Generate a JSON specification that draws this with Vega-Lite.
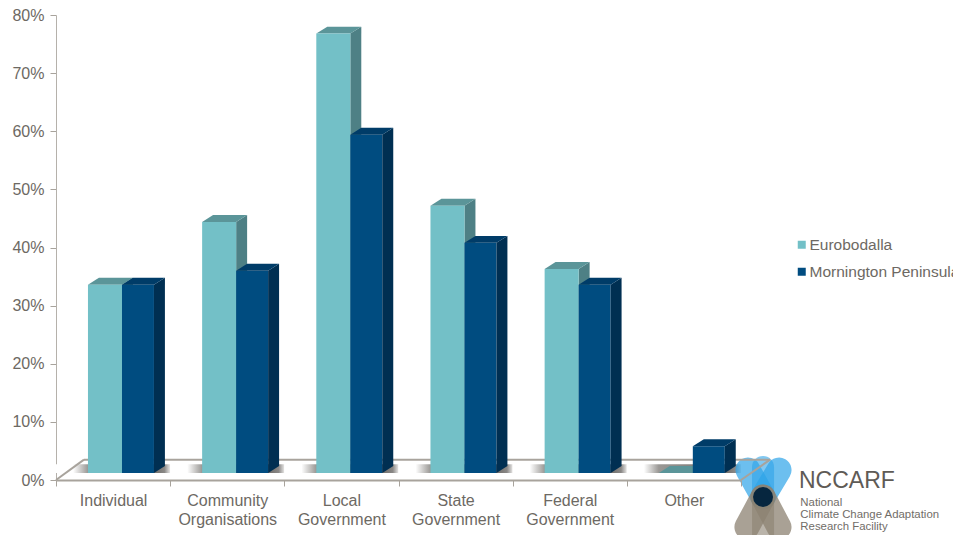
{
  "$schema": "https://vega.github.io/schema/vega-lite/v6.json",
  "autosize": "none",
  "width": 685,
  "height": 465,
  "padding": {"left": 56, "top": 15, "right": 212, "bottom": 55},
  "background": "#ffffff",
  "config": {"view": {"stroke": null}, "font": "Liberation Sans"},
  "data": {
    "values": [
      {"category": "Individual", "series": "Eurobodalla", "value": 32.4},
      {"category": "Individual", "series": "Mornington Peninsula", "value": 32.4},
      {"category": "Community Organisations", "series": "Eurobodalla", "value": 43.2},
      {"category": "Community Organisations", "series": "Mornington Peninsula", "value": 34.8},
      {"category": "Local Government", "series": "Eurobodalla", "value": 75.6},
      {"category": "Local Government", "series": "Mornington Peninsula", "value": 58.2},
      {"category": "State Government", "series": "Eurobodalla", "value": 46.0},
      {"category": "State Government", "series": "Mornington Peninsula", "value": 39.6},
      {"category": "Federal Government", "series": "Eurobodalla", "value": 35.1},
      {"category": "Federal Government", "series": "Mornington Peninsula", "value": 32.4},
      {"category": "Other", "series": "Eurobodalla", "value": 0},
      {"category": "Other", "series": "Mornington Peninsula", "value": 4.6}
    ]
  },
  "transform": [
    {"calculate": "indexof(['Individual','Community Organisations','Local Government','State Government','Federal Government','Other'], datum.category)", "as": "slot"},
    {"calculate": "datum.slot + (datum.series === 'Eurobodalla' ? 0.28 : 0.578)", "as": "left"},
    {"calculate": "datum.slot + (datum.series === 'Eurobodalla' ? 0.578 : 0.858)", "as": "right"},
    {"calculate": "datum.value + 1.2", "as": "front"},
    {"calculate": "1.2", "as": "base"}
  ],
  "resolve": {"scale": {"x": "independent", "y": "independent"}},
  "layer": [
    {
      "transform": [{"filter": "datum.series === 'Eurobodalla'"}],
      "mark": {
        "type": "rect",
        "color": {
          "gradient": "linear", "x1": 0, "y1": 0, "x2": 1, "y2": 0,
          "stops": [
            {"offset": 0, "color": "#ffffff"},
            {"offset": 0.15, "color": "#ffffff"},
            {"offset": 0.28, "color": "#9a9895"},
            {"offset": 0.86, "color": "#6f6d6a"},
            {"offset": 0.95, "color": "#8a8886"},
            {"offset": 1, "color": "#e8e7e6"}
          ]
        }
      },
      "encoding": {
        "x": {
          "field": "category", "type": "nominal", "sort": null,
          "scale": {"paddingInner": 0, "paddingOuter": 0},
          "axis": {
            "title": null, "labelAngle": 0, "tickBand": "extent",
            "labelExpr": "split(datum.label, ' ')",
            "labelFontSize": 16, "labelColor": "#6d6963", "labelLineHeight": 19,
            "labelPadding": 6, "labelLimit": 200,
            "domainColor": "#a8a39c", "domainWidth": 2,
            "tickColor": "#a8a39c", "tickSize": 6, "tickWidth": 1
          }
        },
        "y": {
          "datum": 1.2, "type": "quantitative",
          "scale": {"domain": [0, 80], "nice": false},
          "axis": {
            "title": null, "values": [0, 10, 20, 30, 40, 50, 60, 70, 80],
            "labelExpr": "datum.value + '%'", "grid": false,
            "labelFontSize": 16, "labelColor": "#6d6963", "labelPadding": 6,
            "domainColor": "#b5b1ab", "domainWidth": 1,
            "tickColor": "#a8a39c", "tickSize": 6, "tickWidth": 1
          }
        },
        "y2": {"datum": 2.7}
      }
    },
    {
      "layer": [
        {
          "data": {"values": [{"part": "left petal"}]},
          "mark": {"type": "rule", "color": "#2ea4e8", "opacity": 0.7, "strokeWidth": 25, "strokeCap": "round"},
          "encoding": {
            "x": {"datum": 6.061, "type": "quantitative", "scale": {"domain": [0, 6]}, "axis": null},
            "x2": {"datum": 6.193},
            "y": {"datum": 1.72, "type": "quantitative", "scale": {"domain": [0, 80]}, "axis": null},
            "y2": {"datum": -2.92}
          }
        },
        {
          "data": {"values": [{"part": "right petal"}]},
          "mark": {"type": "rule", "color": "#2ea4e8", "opacity": 0.7, "strokeWidth": 25, "strokeCap": "round"},
          "encoding": {
            "x": {"datum": 6.333, "type": "quantitative", "scale": {"domain": [0, 6]}, "axis": null},
            "x2": {"datum": 6.193},
            "y": {"datum": 1.72, "type": "quantitative", "scale": {"domain": [0, 80]}, "axis": null},
            "y2": {"datum": -2.92}
          }
        },
        {
          "data": {"values": [{"part": "middle petal"}]},
          "mark": {"type": "rule", "color": "#2ea4e8", "opacity": 0.6, "strokeWidth": 22, "strokeCap": "round"},
          "encoding": {
            "x": {"datum": 6.193, "type": "quantitative", "scale": {"domain": [0, 6]}, "axis": null},
            "x2": {"datum": 6.193},
            "y": {"datum": 2.24, "type": "quantitative", "scale": {"domain": [0, 80]}, "axis": null},
            "y2": {"datum": -2.92}
          }
        },
        {
          "data": {"values": [{"part": "lower left petal"}]},
          "mark": {"type": "rule", "color": "#8c8272", "opacity": 0.75, "strokeWidth": 25, "strokeCap": "round"},
          "encoding": {
            "x": {"datum": 6.052, "type": "quantitative", "scale": {"domain": [0, 6]}, "axis": null},
            "x2": {"datum": 6.193},
            "y": {"datum": -8.09, "type": "quantitative", "scale": {"domain": [0, 80]}, "axis": null},
            "y2": {"datum": -2.92}
          }
        },
        {
          "data": {"values": [{"part": "lower right petal"}]},
          "mark": {"type": "rule", "color": "#8c8272", "opacity": 0.75, "strokeWidth": 25, "strokeCap": "round"},
          "encoding": {
            "x": {"datum": 6.333, "type": "quantitative", "scale": {"domain": [0, 6]}, "axis": null},
            "x2": {"datum": 6.193},
            "y": {"datum": -8.09, "type": "quantitative", "scale": {"domain": [0, 80]}, "axis": null},
            "y2": {"datum": -2.92}
          }
        },
        {
          "data": {"values": [{"part": "lower middle petal"}]},
          "mark": {"type": "rule", "color": "#8c8272", "opacity": 0.6, "strokeWidth": 22},
          "encoding": {
            "x": {"datum": 6.193, "type": "quantitative", "scale": {"domain": [0, 6]}, "axis": null},
            "x2": {"datum": 6.193},
            "y": {"datum": -9.5, "type": "quantitative", "scale": {"domain": [0, 80]}, "axis": null},
            "y2": {"datum": -2.92}
          }
        },
        {
          "data": {"values": [{"part": "hub"}]},
          "mark": {"type": "point", "shape": "circle", "filled": true, "size": 400, "opacity": 1, "color": "#06263f"},
          "encoding": {
            "x": {"datum": 6.193, "type": "quantitative", "scale": {"domain": [0, 6]}, "axis": null},
            "y": {"datum": -2.92, "type": "quantitative", "scale": {"domain": [0, 80]}, "axis": null}
          }
        },
        {
          "data": {"values": [{"part": "back floor edge"}]},
          "mark": {"type": "rule", "color": "#a8a39c", "strokeWidth": 2},
          "encoding": {
            "x": {"datum": 0.245, "type": "quantitative", "scale": {"domain": [0, 6]}, "axis": null},
            "x2": {"datum": 6.255},
            "y": {"datum": 3.5, "type": "quantitative", "scale": {"domain": [0, 80]}, "axis": null},
            "y2": {"datum": 3.5}
          }
        },
        {
          "data": {"values": [{"part": "left floor edge"}]},
          "mark": {"type": "rule", "color": "#a8a39c", "strokeWidth": 2},
          "encoding": {
            "x": {"datum": 0, "type": "quantitative", "scale": {"domain": [0, 6]}, "axis": null},
            "x2": {"datum": 0.245},
            "y": {"datum": 0, "type": "quantitative", "scale": {"domain": [0, 80]}, "axis": null},
            "y2": {"datum": 3.5}
          }
        },
        {
          "data": {"values": [{"part": "right floor edge"}]},
          "mark": {"type": "rule", "color": "#a8a39c", "strokeWidth": 2},
          "encoding": {
            "x": {"datum": 6, "type": "quantitative", "scale": {"domain": [0, 6]}, "axis": null},
            "x2": {"datum": 6.255},
            "y": {"datum": 0, "type": "quantitative", "scale": {"domain": [0, 80]}, "axis": null},
            "y2": {"datum": 3.5}
          }
        },
        {
          "transform": [
            {"filter": "datum.series === 'Eurobodalla'"},
            {"calculate": "[0, 1]", "as": "edge"},
            {"flatten": ["edge"]},
            {"calculate": "datum.right + datum.edge * 0.096", "as": "px"},
            {"calculate": "datum.front + datum.edge * 1.2", "as": "upper"},
            {"calculate": "datum.base + datum.edge * 1.2", "as": "lower"}
          ],
          "mark": {"type": "area", "orient": "vertical", "color": "#4e8085"},
          "encoding": {
            "x": {"field": "px", "type": "quantitative", "scale": {"domain": [0, 6]}, "axis": null},
            "y": {"field": "upper", "type": "quantitative", "scale": {"domain": [0, 80]}, "axis": null},
            "y2": {"field": "lower"},
            "detail": {"field": "category"}
          }
        },
        {
          "transform": [
            {"filter": "datum.series === 'Eurobodalla'"},
            {"calculate": "[0, 1, 2, 3]", "as": "edge"},
            {"flatten": ["edge"]},
            {"calculate": "[datum.left, datum.left + 0.096, datum.right, datum.right + 0.096][datum.edge]", "as": "px"},
            {"calculate": "datum.edge === 0 ? datum.front : datum.front + 1.2", "as": "upper"},
            {"calculate": "datum.edge === 3 ? datum.front + 1.2 : datum.front", "as": "lower"}
          ],
          "mark": {"type": "area", "orient": "vertical", "color": "#5b9599"},
          "encoding": {
            "x": {"field": "px", "type": "quantitative", "scale": {"domain": [0, 6]}, "axis": null},
            "y": {"field": "upper", "type": "quantitative", "scale": {"domain": [0, 80]}, "axis": null},
            "y2": {"field": "lower"},
            "detail": {"field": "category"}
          }
        },
        {
          "mark": {"type": "rect"},
          "encoding": {
            "x": {"field": "left", "type": "quantitative", "scale": {"domain": [0, 6]}, "axis": null},
            "x2": {"field": "right"},
            "y": {"field": "front", "type": "quantitative", "scale": {"domain": [0, 80]}, "axis": null},
            "y2": {"field": "base"},
            "color": {
              "field": "series", "type": "nominal",
              "scale": {"domain": ["Eurobodalla", "Mornington Peninsula"], "range": ["#73c0c7", "#004c80"]},
              "legend": {
                "title": null, "orient": "none", "legendX": 738, "legendY": 222,
                "symbolType": "square", "symbolSize": 64, "symbolStrokeWidth": 0,
                "labelFontSize": 15.5, "labelColor": "#6d6963", "labelLimit": 300,
                "labelOffset": 0, "rowPadding": 10
              }
            }
          }
        },
        {
          "transform": [
            {"filter": "datum.series === 'Mornington Peninsula'"},
            {"calculate": "[0, 1]", "as": "edge"},
            {"flatten": ["edge"]},
            {"calculate": "datum.right + datum.edge * 0.096", "as": "px"},
            {"calculate": "datum.front + datum.edge * 1.2", "as": "upper"},
            {"calculate": "datum.base + datum.edge * 1.2", "as": "lower"}
          ],
          "mark": {"type": "area", "orient": "vertical", "color": "#002f52"},
          "encoding": {
            "x": {"field": "px", "type": "quantitative", "scale": {"domain": [0, 6]}, "axis": null},
            "y": {"field": "upper", "type": "quantitative", "scale": {"domain": [0, 80]}, "axis": null},
            "y2": {"field": "lower"},
            "detail": {"field": "category"}
          }
        },
        {
          "transform": [
            {"filter": "datum.series === 'Mornington Peninsula'"},
            {"calculate": "[0, 1, 2, 3]", "as": "edge"},
            {"flatten": ["edge"]},
            {"calculate": "[datum.left, datum.left + 0.096, datum.right, datum.right + 0.096][datum.edge]", "as": "px"},
            {"calculate": "datum.edge === 0 ? datum.front : datum.front + 1.2", "as": "upper"},
            {"calculate": "datum.edge === 3 ? datum.front + 1.2 : datum.front", "as": "lower"}
          ],
          "mark": {"type": "area", "orient": "vertical", "color": "#003c68"},
          "encoding": {
            "x": {"field": "px", "type": "quantitative", "scale": {"domain": [0, 6]}, "axis": null},
            "y": {"field": "upper", "type": "quantitative", "scale": {"domain": [0, 80]}, "axis": null},
            "y2": {"field": "lower"},
            "detail": {"field": "category"}
          }
        },
        {
          "data": {"values": [{"label": "NCCARF"}]},
          "mark": {"type": "text", "align": "left", "baseline": "middle", "fontSize": 23, "color": "#5f5b56"},
          "encoding": {
            "text": {"field": "label"},
            "x": {"datum": 6.508, "type": "quantitative", "scale": {"domain": [0, 6]}, "axis": null},
            "y": {"datum": -0.2, "type": "quantitative", "scale": {"domain": [0, 80]}, "axis": null}
          }
        },
        {
          "data": {"values": [{"label": "National"}]},
          "mark": {"type": "text", "align": "left", "baseline": "middle", "fontSize": 11.4, "color": "#716d68"},
          "encoding": {
            "text": {"field": "label"},
            "x": {"datum": 6.52, "type": "quantitative", "scale": {"domain": [0, 6]}, "axis": null},
            "y": {"datum": -3.96, "type": "quantitative", "scale": {"domain": [0, 80]}, "axis": null}
          }
        },
        {
          "data": {"values": [{"label": "Climate Change Adaptation"}]},
          "mark": {"type": "text", "align": "left", "baseline": "middle", "fontSize": 11.4, "color": "#716d68"},
          "encoding": {
            "text": {"field": "label"},
            "x": {"datum": 6.52, "type": "quantitative", "scale": {"domain": [0, 6]}, "axis": null},
            "y": {"datum": -6.02, "type": "quantitative", "scale": {"domain": [0, 80]}, "axis": null}
          }
        },
        {
          "data": {"values": [{"label": "Research Facility"}]},
          "mark": {"type": "text", "align": "left", "baseline": "middle", "fontSize": 11.4, "color": "#716d68"},
          "encoding": {
            "text": {"field": "label"},
            "x": {"datum": 6.52, "type": "quantitative", "scale": {"domain": [0, 6]}, "axis": null},
            "y": {"datum": -8.09, "type": "quantitative", "scale": {"domain": [0, 80]}, "axis": null}
          }
        }
      ]
    }
  ]
}
